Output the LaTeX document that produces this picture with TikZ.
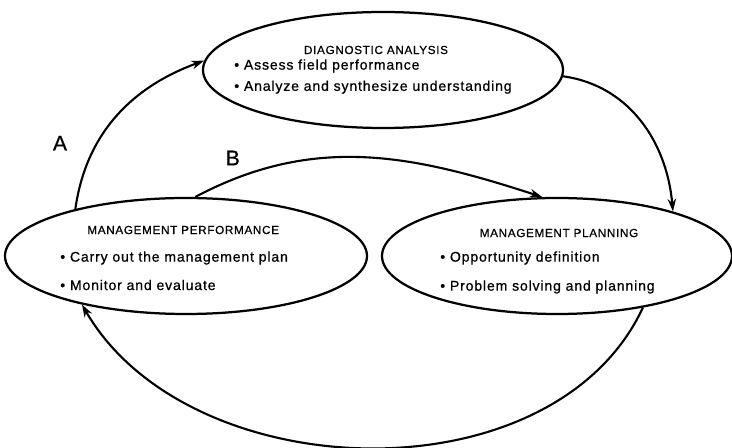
\documentclass[tikz,border=0pt]{standalone}
\usepackage{fontspec}
\setmainfont{Liberation Sans}[LetterSpace=6, FakeBold=0.7]
\usetikzlibrary{shapes.geometric,arrows.meta}

\begin{document}
\begin{tikzpicture}[
  oval/.style={draw, ellipse, line width=1.6pt, minimum width=#1, minimum height=2.9cm},
  head/.style={font=\fontsize{8.3}{9}\selectfont},
  item/.style={anchor=west, inner sep=0pt, font=\fontsize{10}{11}\selectfont},
  flow/.style={line width=1.5pt, -{Stealth[length=9pt,width=6pt]}}
]
  \useasboundingbox (0,0) rectangle (18.3,11.2);

  % Diagnostic analysis
  \node[oval=9cm] (diag) at (9.575,9.45) {};
  \node[head] (diagT) at (9.4,9.95) {DIAGNOSTIC ANALYSIS};
  \node[item] (diag1) at (5.85,9.55) {\textbullet\ Assess field performance};
  \node[item] (diag2) at (5.85,9.02) {\textbullet\ Analyze and synthesize understanding};

  % Management performance
  \node[oval=9.05cm] (perf) at (4.65,4.8) {};
  \node[head] (perfT) at (4.58,5.45) {MANAGEMENT PERFORMANCE};
  \node[item] (perf1) at (1.5,4.75) {\textbullet\ Carry out the management plan};
  \node[item] (perf2) at (1.5,4.075) {\textbullet\ Monitor and evaluate};

  % Management planning
  \node[oval=8.75cm] (plan) at (13.925,4.8) {};
  \node[head] (planT) at (13.975,5.375) {MANAGEMENT PLANNING};
  \node[item] (plan1) at (11.0,4.75) {\textbullet\ Opportunity definition};
  \node[item] (plan2) at (11.0,4.025) {\textbullet\ Problem solving and planning};

  % Cycle
  \draw[flow] (perf.157) to[out=82, in=200] (diag.177);
  \draw[flow] (diag.358) to[out=-8, in=95] (plan.21);
  \draw[flow] (perf.81) to[out=28, in=162] (plan.104);
  \draw[flow] (plan.329) to[out=245, in=-60, looseness=0.97] (perf.205);

  \node[font=\fontsize{15}{16}\selectfont] (labA) at (1.5,7.62) {A};
  \node[font=\fontsize{15}{16}\selectfont] (labB) at (5.82,7.25) {B};
\end{tikzpicture}
\end{document}
